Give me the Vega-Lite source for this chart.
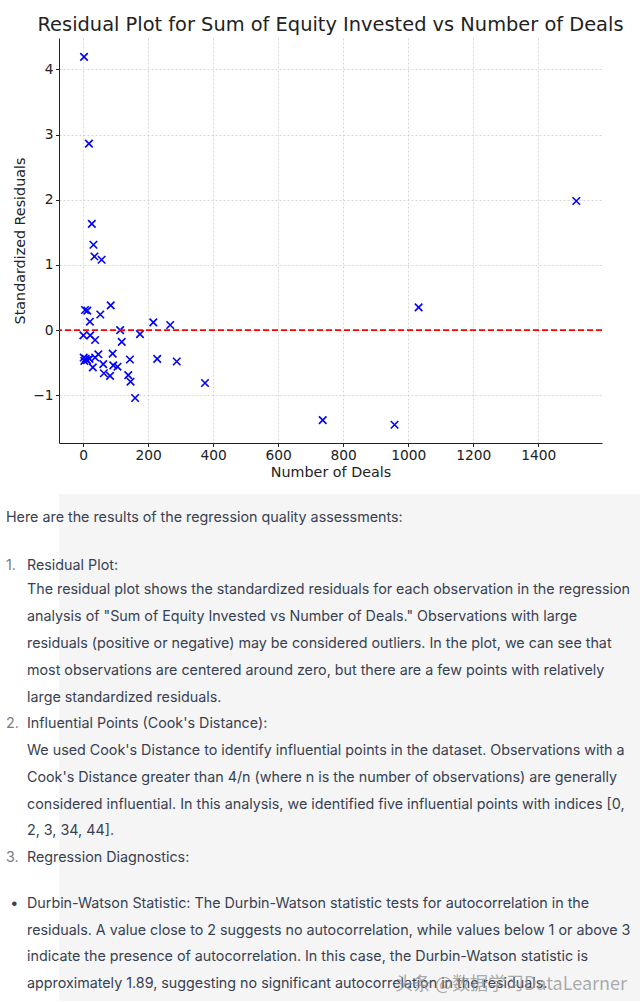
{
  "$schema": "https://vega.github.io/schema/vega-lite/v6.json",
  "background": "white",
  "padding": {"left": 6, "top": 14, "right": 0, "bottom": 0},
  "spacing": 14,
  "config": {
    "view": {"stroke": null},
    "axis": {"labelFont": "DejaVu Sans", "titleFont": "DejaVu Sans"}
  },
  "vconcat": [
    {
      "width": 543,
      "height": 405,
      "title": {
        "text": "Residual Plot for Sum of Equity Invested vs Number of Deals",
        "font": "DejaVu Sans",
        "fontSize": 19.4,
        "fontWeight": "normal",
        "color": "#222222",
        "anchor": "middle",
        "offset": 3
      },
      "layer": [
        {
          "data": {
            "values": [
              {"deals": 3, "resid": 4.19},
              {"deals": 18, "resid": 2.86},
              {"deals": 27, "resid": 1.63},
              {"deals": 32, "resid": 1.31},
              {"deals": 35, "resid": 1.13},
              {"deals": 57, "resid": 1.08},
              {"deals": 85, "resid": 0.38},
              {"deals": 6, "resid": 0.31},
              {"deals": 13, "resid": 0.3},
              {"deals": 53, "resid": 0.24},
              {"deals": 21, "resid": 0.13},
              {"deals": 216, "resid": 0.12},
              {"deals": 268, "resid": 0.08},
              {"deals": 114, "resid": 0.0},
              {"deals": 175, "resid": -0.06},
              {"deals": 1, "resid": -0.08},
              {"deals": 22, "resid": -0.08},
              {"deals": 37, "resid": -0.15},
              {"deals": 119, "resid": -0.18},
              {"deals": 47, "resid": -0.37},
              {"deals": 91, "resid": -0.36},
              {"deals": 2, "resid": -0.42},
              {"deals": 8, "resid": -0.44},
              {"deals": 4, "resid": -0.47},
              {"deals": 12, "resid": -0.46},
              {"deals": 37, "resid": -0.42},
              {"deals": 20, "resid": -0.44},
              {"deals": 30, "resid": -0.57},
              {"deals": 62, "resid": -0.52},
              {"deals": 93, "resid": -0.54},
              {"deals": 106, "resid": -0.56},
              {"deals": 144, "resid": -0.45},
              {"deals": 228, "resid": -0.44},
              {"deals": 288, "resid": -0.48},
              {"deals": 64, "resid": -0.66},
              {"deals": 83, "resid": -0.7},
              {"deals": 139, "resid": -0.69},
              {"deals": 146, "resid": -0.79},
              {"deals": 375, "resid": -0.81},
              {"deals": 160, "resid": -1.04},
              {"deals": 737, "resid": -1.38},
              {"deals": 958, "resid": -1.45},
              {"deals": 1032, "resid": 0.35},
              {"deals": 1517, "resid": 1.98}
            ]
          },
          "mark": {
            "type": "point",
            "shape": "M-1,-1L1,1M-1,1L1,-1",
            "filled": false,
            "color": "#0000ff",
            "strokeWidth": 1.6,
            "size": 56,
            "opacity": 1
          },
          "encoding": {
            "x": {
              "field": "deals",
              "type": "quantitative",
              "scale": {"domain": [-74, 1596], "nice": false, "zero": false},
              "axis": {
                "values": [0, 200, 400, 600, 800, 1000, 1200, 1400],
                "format": "d",
                "title": "Number of Deals",
                "grid": true,
                "gridColor": "#cccccc",
                "gridDash": [2, 2],
                "gridWidth": 0.8,
                "domainColor": "#222222",
                "domainWidth": 1,
                "tickColor": "#222222",
                "tickSize": 3.5,
                "labelFontSize": 13.8,
                "labelColor": "#222222",
                "labelPadding": 2,
                "titleFontSize": 14.3,
                "titleFontWeight": "normal",
                "titleColor": "#222222",
                "titlePadding": 3
              }
            },
            "y": {
              "field": "resid",
              "type": "quantitative",
              "scale": {"domain": [-1.73, 4.48], "nice": false, "zero": false},
              "axis": {
                "values": [-1, 0, 1, 2, 3, 4],
                "format": "d",
                "title": "Standardized Residuals",
                "grid": true,
                "gridColor": "#cccccc",
                "gridDash": [2, 2],
                "gridWidth": 0.8,
                "domainColor": "#222222",
                "domainWidth": 1,
                "tickColor": "#222222",
                "tickSize": 3.5,
                "labelFontSize": 13.8,
                "labelColor": "#222222",
                "labelPadding": 2.5,
                "titleFontSize": 14.3,
                "titleFontWeight": "normal",
                "titleColor": "#222222",
                "titlePadding": 5
              }
            }
          }
        },
        {
          "data": {"values": [{"ref": 0}]},
          "mark": {"type": "rule", "color": "#ff0000", "strokeDash": [6, 3], "strokeWidth": 1.6},
          "encoding": {"y": {"field": "ref", "type": "quantitative"}}
        }
      ]
    },
    {
      "width": 581,
      "height": 507,
      "view": {"fill": "#f5f5f6", "stroke": null},
      "title": {
        "text": "头条 @数据学习DataLearner",
        "orient": "bottom",
        "anchor": "end",
        "offset": -25,
        "dx": -13,
        "font": "Noto Sans CJK SC",
        "fontSize": 18,
        "fontWeight": "normal",
        "color": "rgba(150,150,150,0.8)"
      },
      "data": {
        "values": [
          {"line": 0, "level": 0, "kind": "body", "text": "Here are the results of the regression quality assessments:"},
          {"line": 1.8, "level": 0, "kind": "num", "text": "1."},
          {"line": 1.8, "level": 1, "kind": "body", "text": "Residual Plot:"},
          {"line": 2.7, "level": 1, "kind": "body", "text": "The residual plot shows the standardized residuals for each observation in the regression"},
          {"line": 3.7, "level": 1, "kind": "body", "text": "analysis of \"Sum of Equity Invested vs Number of Deals.\" Observations with large"},
          {"line": 4.7, "level": 1, "kind": "body", "text": "residuals (positive or negative) may be considered outliers. In the plot, we can see that"},
          {"line": 5.7, "level": 1, "kind": "body", "text": "most observations are centered around zero, but there are a few points with relatively"},
          {"line": 6.7, "level": 1, "kind": "body", "text": "large standardized residuals."},
          {"line": 7.7, "level": 0, "kind": "num", "text": "2."},
          {"line": 7.7, "level": 1, "kind": "body", "text": "Influential Points (Cook's Distance):"},
          {"line": 8.7, "level": 1, "kind": "body", "text": "We used Cook's Distance to identify influential points in the dataset. Observations with a"},
          {"line": 9.7, "level": 1, "kind": "body", "text": "Cook's Distance greater than 4/n (where n is the number of observations) are generally"},
          {"line": 10.7, "level": 1, "kind": "body", "text": "considered influential. In this analysis, we identified five influential points with indices [0,"},
          {"line": 11.7, "level": 1, "kind": "body", "text": "2, 3, 34, 44]."},
          {"line": 12.7, "level": 0, "kind": "num", "text": "3."},
          {"line": 12.7, "level": 1, "kind": "body", "text": "Regression Diagnostics:"},
          {"line": 14.4, "level": 0.2, "kind": "bullet", "text": "•"},
          {"line": 14.4, "level": 1, "kind": "body", "text": "Durbin-Watson Statistic: The Durbin-Watson statistic tests for autocorrelation in the"},
          {"line": 15.4, "level": 1, "kind": "body", "text": "residuals. A value close to 2 suggests no autocorrelation, while values below 1 or above 3"},
          {"line": 16.4, "level": 1, "kind": "body", "text": "indicate the presence of autocorrelation. In this case, the Durbin-Watson statistic is"},
          {"line": 17.4, "level": 1, "kind": "body", "text": "approximately 1.89, suggesting no significant autocorrelation in the residuals."}
        ]
      },
      "mark": {"type": "text", "align": "left", "baseline": "middle", "font": "Inter", "fontSize": 14.3},
      "encoding": {
        "x": {"field": "level", "type": "quantitative", "scale": {"domain": [0, 1], "range": [-53, -32]}, "axis": null},
        "y": {"field": "line", "type": "quantitative", "scale": {"domain": [-0.9, 18.03], "reverse": true, "nice": false, "zero": false}, "axis": null},
        "text": {"field": "text", "type": "nominal"},
        "color": {"field": "kind", "type": "nominal", "scale": {"domain": ["body", "num", "bullet"], "range": ["#374151", "#7a7a85", "#374151"]}, "legend": null}
      }
    }
  ]
}
